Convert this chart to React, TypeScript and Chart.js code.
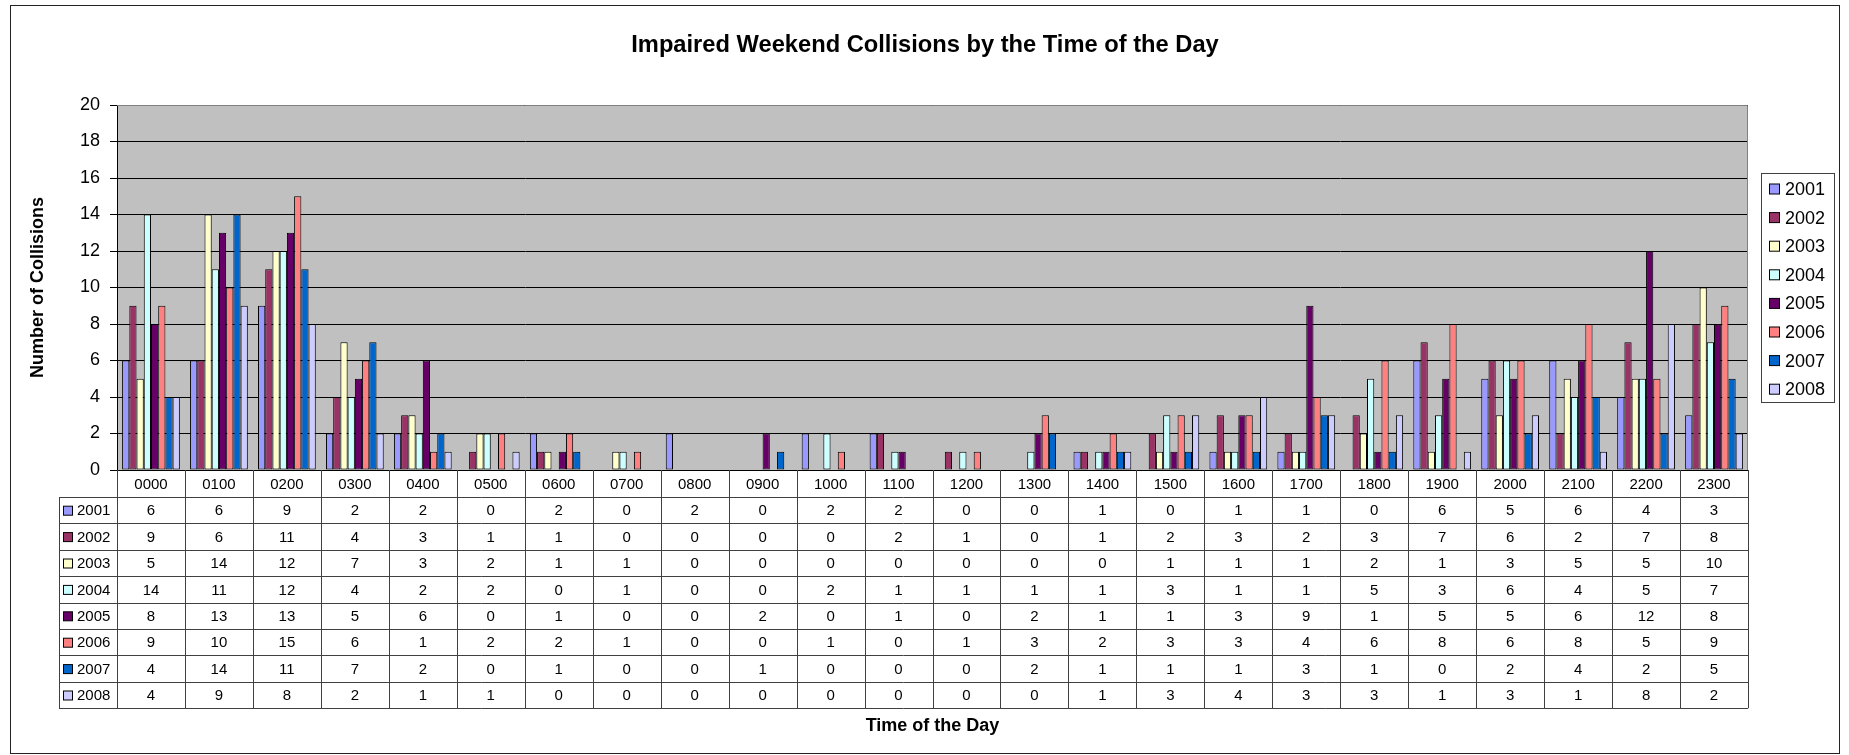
import React, { useEffect, useRef } from "react";
import { Chart, registerables } from "chart.js";

Chart.register(...registerables);

const hours = ["0000","0100","0200","0300","0400","0500","0600","0700","0800","0900","1000","1100","1200","1300","1400","1500","1600","1700","1800","1900","2000","2100","2200","2300"];
const years = ["2001","2002","2003","2004","2005","2006","2007","2008"];
const y2001 = [6,6,9,2,2,0,2,0,2,0,2,2,0,0,1,0,1,1,0,6,5,6,4,3];
const y2002 = [9,6,11,4,3,1,1,0,0,0,0,2,1,0,1,2,3,2,3,7,6,2,7,8];
const y2003 = [5,14,12,7,3,2,1,1,0,0,0,0,0,0,0,1,1,1,2,1,3,5,5,10];
const y2004 = [14,11,12,4,2,2,0,1,0,0,2,1,1,1,1,3,1,1,5,3,6,4,5,7];
const y2005 = [8,13,13,5,6,0,1,0,0,2,0,1,0,2,1,1,3,9,1,5,5,6,12,8];
const y2006 = [9,10,15,6,1,2,2,1,0,0,1,0,1,3,2,3,3,4,6,8,6,8,5,9];
const y2007 = [4,14,11,7,2,0,1,0,0,1,0,0,0,2,1,1,1,3,1,0,2,4,2,5];
const y2008 = [4,9,8,2,1,1,0,0,0,0,0,0,0,0,1,3,4,3,3,1,3,1,8,2];
const seriesValues = [y2001, y2002, y2003, y2004, y2005, y2006, y2007, y2008];
const colors = ["#9999FF","#993366","#FFFFCC","#CCFFFF","#660066","#FF8080","#0066CC","#CCCCFF"];
const yTicks = [0,2,4,6,8,10,12,14,16,18,20];

const TITLE = "Impaired Weekend Collisions by the Time of the Day";
const Y_TITLE = "Number of Collisions";
const X_TITLE = "Time of the Day";
const FONT = "'Liberation Sans', Arial, sans-serif";

export default function App() {
  const ref = useRef<HTMLCanvasElement | null>(null);
  useEffect(() => {
    document.body.style.margin = "0";
    const canvas = ref.current!;
    const decor = {
      id: "decor",
      beforeDraw(chart: any) {
        const { ctx, chartArea: a } = chart;
        ctx.save();
        ctx.fillStyle = "#fff";
        ctx.fillRect(0, 0, chart.width, chart.height);
        ctx.fillStyle = "#C0C0C0";
        ctx.fillRect(a.left, a.top, a.right - a.left, a.bottom - a.top);
        ctx.restore();
      },
      afterDraw(chart: any) {
        const { ctx, chartArea: a } = chart;
        const xs = chart.scales.x;
        ctx.save();
        // plot border
        ctx.strokeStyle = "#808080";
        ctx.lineWidth = 1;
        ctx.beginPath();
        ctx.moveTo(a.left, a.top + 0.5);
        ctx.lineTo(a.right - 0.5, a.top + 0.5);
        ctx.lineTo(a.right - 0.5, a.bottom);
        ctx.stroke();
        ctx.strokeStyle = "#000";
        ctx.beginPath();
        ctx.moveTo(a.left, a.bottom + 0.5);
        ctx.lineTo(a.right, a.bottom + 0.5);
        ctx.stroke();

        // data table
        const n = hours.length;
        const cw = (a.right - a.left) / n;
        const headTop = a.bottom;
        const headBot = a.bottom + 27;
        const rowH = 26.4;
        const tableLeft = 59;
        const tableBot = headBot + rowH * years.length;
        ctx.strokeStyle = "#404040";
        ctx.lineWidth = 1;
        ctx.beginPath();
        for (let i = 0; i <= n; i++) {
          const x = Math.round(i === n ? a.right : xs.getPixelForValue(i) - cw / 2) + 0.5;
          ctx.moveTo(x, headTop);
          ctx.lineTo(x, tableBot);
        }
        ctx.moveTo(tableLeft + 0.5, headBot);
        ctx.lineTo(tableLeft + 0.5, tableBot);
        for (let r = 0; r <= years.length; r++) {
          const y = Math.round(headBot + r * rowH) + 0.5;
          ctx.moveTo(tableLeft, y);
          ctx.lineTo(a.right, y);
        }
        ctx.stroke();
        ctx.fillStyle = "#000";
        ctx.font = `15px ${FONT}`;
        ctx.textAlign = "center";
        ctx.textBaseline = "middle";
        for (let i = 0; i < n; i++) {
          const cx = xs.getPixelForValue(i);
          ctx.fillText(hours[i], cx, (headTop + headBot) / 2 + 1);
          for (let r = 0; r < years.length; r++) {
            const cy = headBot + r * rowH + rowH / 2 + 1;
            ctx.fillText(String(seriesValues[r][i]), cx, cy);
          }
        }
        ctx.textAlign = "left";
        for (let r = 0; r < years.length; r++) {
          const cy = headBot + r * rowH + rowH / 2;
          ctx.fillStyle = colors[r];
          ctx.fillRect(63.5, cy - 4, 9, 9);
          ctx.strokeStyle = "#000";
          ctx.strokeRect(63.5, cy - 4, 9, 9);
          ctx.fillStyle = "#000";
          ctx.fillText(years[r], 77, cy + 1);
        }

        // legend
        ctx.strokeStyle = "#404040";
        ctx.strokeRect(1761.5, 173.5, 73, 229);
        ctx.font = `18px ${FONT}`;
        for (let r = 0; r < years.length; r++) {
          const cy = 189 + r * 28.6;
          ctx.fillStyle = colors[r];
          ctx.fillRect(1769.5, cy - 5, 10, 10);
          ctx.strokeStyle = "#000";
          ctx.strokeRect(1769.5, cy - 5, 10, 10);
          ctx.fillStyle = "#000";
          ctx.fillText(years[r], 1785, cy + 1);
        }

        // titles
        ctx.textAlign = "center";
        ctx.font = `bold 23.7px ${FONT}`;
        ctx.fillText(TITLE, 925, 45);
        ctx.font = `bold 18px ${FONT}`;
        ctx.fillText(X_TITLE, (a.left + a.right) / 2, 726);
        ctx.save();
        ctx.translate(38, (a.top + a.bottom) / 2);
        ctx.rotate(-Math.PI / 2);
        ctx.fillText(Y_TITLE, 0, 0);
        ctx.restore();

        // outer border
        ctx.strokeStyle = "#222";
        ctx.lineWidth = 1;
        ctx.strokeRect(10.5, 5.5, 1829, 748);
        ctx.restore();
      },
    };

    const chart = new Chart(canvas, {
      type: "bar",
      data: {
        labels: hours,
        datasets: years.map((y, i) => ({
          label: y,
          data: seriesValues[i],
          backgroundColor: colors[i],
          borderColor: "#000",
          borderWidth: 1,
          borderSkipped: false as any,
          categoryPercentage: 0.85,
          barPercentage: 1,
        })),
      },
      options: {
        responsive: false,
        animation: false,
        devicePixelRatio: 1,
        layout: { padding: { left: 0, top: 105, right: 101, bottom: 285 } },
        plugins: { legend: { display: false }, title: { display: false }, tooltip: { enabled: false } },
        scales: {
          x: { display: false, offset: true },
          y: {
            min: 0,
            max: 20,
            afterBuildTicks: (s: any) => { s.ticks = yTicks.map((v) => ({ value: v })); },
            afterFit: (s: any) => { s.width = 117; },
            ticks: { color: "#000", font: { size: 18, family: FONT }, padding: 10 },
            grid: { color: "#000", tickLength: 7, tickColor: "#000" },
            border: { display: true, color: "#000" },
          },
        },
      },
      plugins: [decor],
    });
    return () => chart.destroy();
  }, []);
  return <canvas ref={ref} width={1849} height={755} style={{ display: "block", width: 1849, height: 755 }} />;
}
